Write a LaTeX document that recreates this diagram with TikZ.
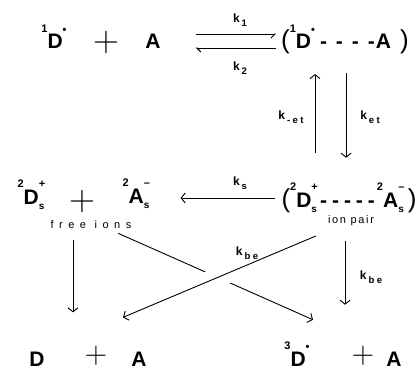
\documentclass[tikz,border=0pt]{standalone}
\usepackage{fontspec}
\setsansfont{Liberation Sans}
\usetikzlibrary{arrows.meta}

\newcommand{\hi}[1]{\raisebox{0.78em}{\fontsize{11}{11}\selectfont #1}}
\newcommand{\lo}[1]{\raisebox{-0.25em}{\fontsize{10}{10}\selectfont #1}}
\newcommand{\dt}{\raisebox{0.72em}{\fontsize{11}{11}\selectfont\textbullet}}
\newcommand{\rs}[1]{\,\raisebox{-0.3em}{\fontsize{9.5}{9.5}\selectfont\addfontfeature{LetterSpace=25}#1}}
\newcommand{\lp}{{\mdseries\fontsize{26}{26}\selectfont(}}
\newcommand{\rp}{{\mdseries\fontsize{26}{26}\selectfont)}}
\newcommand{\dd}[1]{\hspace{#1}-}

\begin{document}
\begin{tikzpicture}[x=1pt,y=-1pt,
 species/.style={font=\sffamily\bfseries\fontsize{21}{23}\selectfont,inner sep=1pt,anchor=base},
 plus/.style={font=\rmfamily\fontsize{36}{36}\selectfont,inner sep=0pt},
 lowplus/.style={plus,font=\rmfamily\fontsize{31}{31}\selectfont},
 rate/.style={font=\sffamily\bfseries\fontsize{12}{13}\selectfont,inner sep=1pt},
 note/.style={font=\sffamily\fontsize{11}{12}\selectfont,inner sep=1pt},
 rxn/.style={-{Straight Barb[length=4pt,width=10pt]},line width=0.9pt},
 fwd/.style={-{Straight Barb[right,length=4pt,width=8pt]},line width=0.9pt},
 bwd/.style={-{Straight Barb[left,length=4pt,width=8pt]},line width=0.9pt}]
 \useasboundingbox (0,0) rectangle (419,370);

 \node[species] at (54,48.5)(d1){\hi{1}D\dt};
 \node[plus] at (106,43)(p1){+};
 \node[species] at (153,48.5)(a1){A};
 \node[species] at (345,48.5)(pr1){\lp\hi{1}D\dt\dd{5pt}\dd{9pt}\dd{9pt}\dd{9pt}\hspace{1pt}A\hspace{9pt}\rp};
 \node[rate] at (240,20)(k1){k\rs{1}};
 \node[rate] at (240,68)(k2){k\rs{2}};
 \node[rate] at (291,117)(kme){k\rs{-et}};
 \node[rate] at (370,117)(ket){k\rs{et}};

 \node[species] at (31,204)(ds){\hi{2}D\rlap{\hi{+}}\lo{s}};
 \node[plus] at (82,202)(p2){+};
 \node[species] at (136,203)(as){\hi{2}A\rlap{\hi{--}}\lo{s}};
 \node[note] at (91,225)(free){\addfontfeature{LetterSpace=50}free ions};
 \node[species] at (349,207)(pr2){\lp\hi{2}D\rlap{\hi{+}}\lo{s}\dd{3pt}\dd{5pt}\dd{5pt}\dd{5pt}\dd{5pt}\hspace{2pt}\hi{2}A\rlap{\hi{--}}\lo{s}\hspace{4pt}\rp};
 \node[note] at (351,221)(ion){\addfontfeature{LetterSpace=15}ion pair};
 \node[rate] at (240,183)(ks){k\rs{s}};
 \node[rate] at (247,253)(kbx){k\rs{be}};
 \node[rate] at (371,277)(kbe){k\rs{be}};

 \node[species] at (37,366)(d3){D};
 \node[lowplus] at (96,356)(p3){+};
 \node[species] at (139,366)(a3){A};
 \node[species] at (297,366)(t3){\hi{3}D\dt};
 \node[lowplus] at (363,356)(p4){+};
 \node[species] at (394,366)(a4){A};

 \draw[fwd,shorten <=34pt,shorten >=4pt] ([yshift=14.5pt]a1.base east) -- ([yshift=14.5pt]pr1.base west);
 \draw[bwd,shorten <=4pt,shorten >=34pt] ([yshift=0.5pt]pr1.base west) -- ([yshift=0.5pt]a1.base east);
 \draw[rxn,shorten <=29pt,shorten >=19pt] ([xshift=-34pt]pr2.north) -- ([xshift=-30pt]pr1.south);
 \draw[rxn,shorten <=18pt,shorten >=24pt] ([xshift=1pt]pr1.south) -- ([xshift=-3pt]pr2.north);
 \draw[rxn,shorten <=5pt,shorten >=30pt] ([yshift=9pt]pr2.base west) -- ([yshift=5pt]as.base east);
 \draw[rxn,shorten <=10pt,shorten >=38pt] ([xshift=-18pt]free.south) -- ([xshift=36pt]d3.north);
 \draw[rxn,shorten <=14pt,shorten >=36pt] ([xshift=-6pt]ion.south) -- ([xshift=48pt]t3.north);
 \draw[rxn] ([xshift=27pt,yshift=-3pt]free.south) -- ([xshift=16pt,yshift=21pt]t3.north);
 \draw[rxn,preaction={draw,white,line width=20pt,-,shorten <=93pt,shorten >=82pt}]
  ([xshift=-11pt,yshift=-15pt]ion.west) -- ([xshift=-16pt,yshift=33pt]a3.north);
\end{tikzpicture}
\end{document}
